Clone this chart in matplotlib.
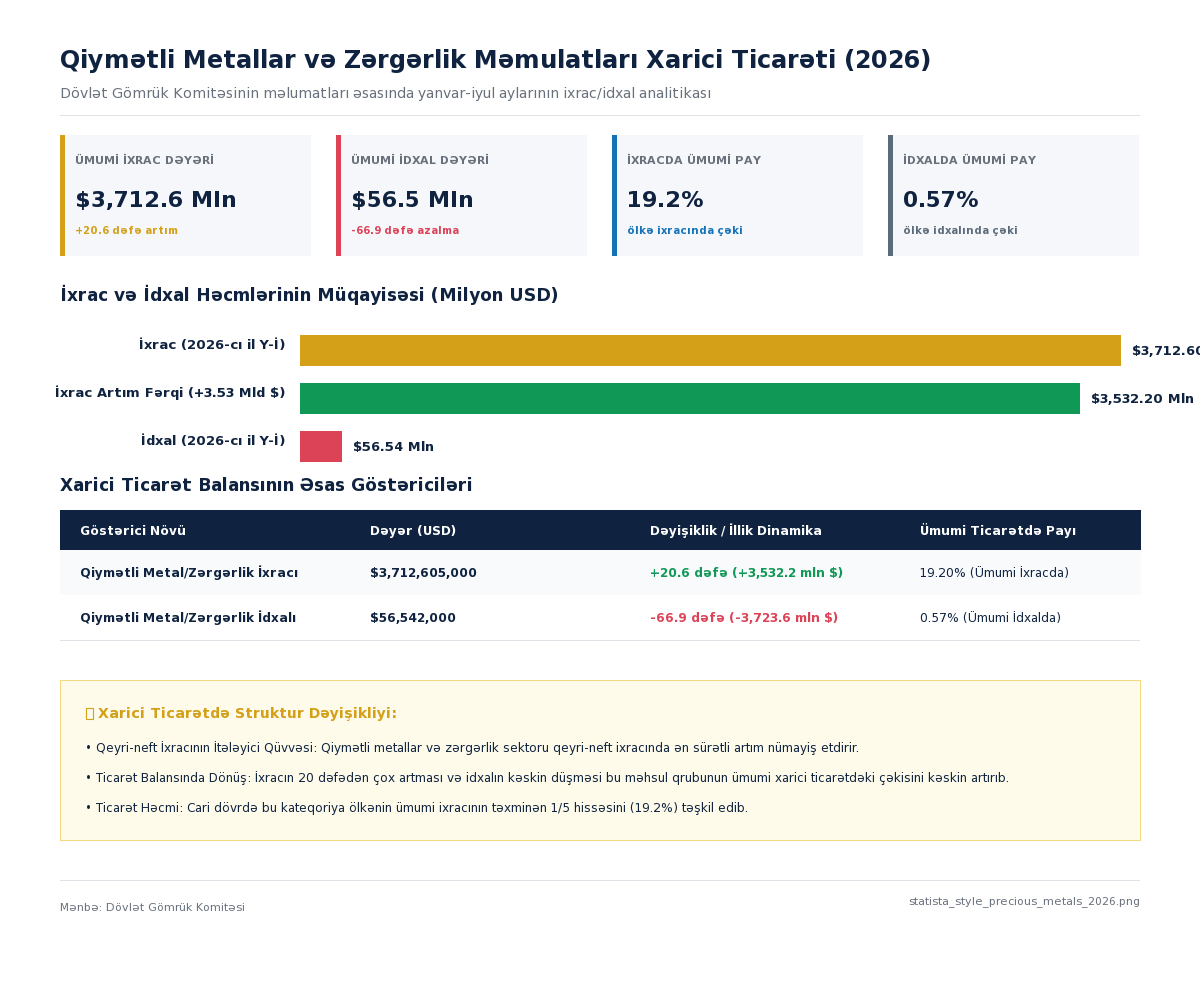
import matplotlib
matplotlib.use('Agg')
import matplotlib.pyplot as plt
from matplotlib.patches import Rectangle

# integer glyph advances, same look as the hinted text in the reference
plt.rcParams['text.hinting'] = 'force_autohint'
plt.rcParams['text.hinting_factor'] = 1

NAVY = '#0f2340'
GOLD = '#d4a017'
RED = '#dc4357'
GREEN = '#109856'
BLUE = '#1472b8'
SLATE = '#5c6b7a'
GRAY = '#68707b'
LINE = '#dfe2e6'

title = "Qiymətli Metallar və Zərgərlik Məmulatları Xarici Ticarəti (2026)"
subtitle = "Dövlət Gömrük Komitəsinin məlumatları əsasında yanvar-iyul aylarının ixrac/idxal analitikası"

card_labels = ["ÜMUMİ İXRAC DƏYƏRİ", "ÜMUMİ İDXAL DƏYƏRİ", "İXRACDA ÜMUMİ PAY", "İDXALDA ÜMUMİ PAY"]
card_values = ["$3,712.6 Mln", "$56.5 Mln", "19.2%", "0.57%"]
card_notes = ["+20.6 dəfə artım", "-66.9 dəfə azalma", "ölkə ixracında çəki", "ölkə idxalında çəki"]
card_colors = [GOLD, RED, BLUE, SLATE]

bar_names = ["İxrac (2026-cı il Y-İ)", "İxrac Artım Fərqi (+3.53 Mld $)", "İdxal (2026-cı il Y-İ)"]
# bar lengths; the idxal bar is drawn wider than its label says
bar_values = [3712.6, 3527, 190]
bar_texts = ["$3,712.60 Mln", "$3,532.20 Mln", "$56.54 Mln"]
bar_colors = [GOLD, GREEN, RED]

table_head = ["Göstərici Növü", "Dəyər (USD)", "Dəyişiklik / İllik Dinamika", "Ümumi Ticarətdə Payı"]
table_rows = [
    ["Qiymətli Metal/Zərgərlik İxracı", "$3,712,605,000", "+20.6 dəfə (+3,532.2 mln $)", "19.20% (Ümumi İxracda)"],
    ["Qiymətli Metal/Zərgərlik İdxalı", "$56,542,000", "-66.9 dəfə (-3,723.6 mln $)", "0.57% (Ümumi İdxalda)"],
]
change_colors = [GREEN, RED]

note_title = "Xarici Ticarətdə Struktur Dəyişikliyi:"
note_lines = [
    "• Qeyri-neft İxracının İtələyici Qüvvəsi: Qiymətli metallar və zərgərlik sektoru qeyri-neft ixracında ən sürətli artım nümayiş etdirir.",
    "• Ticarət Balansında Dönüş: İxracın 20 dəfədən çox artması və idxalın kəskin düşməsi bu məhsul qrubunun ümumi xarici ticarətdəki çəkisini kəskin artırıb.",
    "• Ticarət Həcmi: Cari dövrdə bu kateqoriya ölkənin ümumi ixracının təxminən 1/5 hissəsini (19.2%) təşkil edib.",
]
source = "Mənbə: Dövlət Gömrük Komitəsi"
file_name = "statista_style_precious_metals_2026.png"

fig = plt.figure(figsize=(12, 10), dpi=100, facecolor='white')

# page layer in pixel coordinates, y is the text baseline
page = fig.add_axes([0, 0, 1, 1])
page.set_xlim(0, 1200)
page.set_ylim(1000, 0)
page.axis('off')


def txt(x, y, s, px, color=NAVY, bold=False, ha='left'):
    page.text(x, y, s, fontsize=px * 0.72, color=color, ha=ha, va='baseline',
              fontweight='bold' if bold else 'normal')


def box(x, y, w, h, color):
    page.add_patch(Rectangle((x, y), w, h, facecolor=color, edgecolor='none'))


def rule(y):
    box(60, y, 1080, 1, LINE)


# header
txt(60, 68, title, 24, bold=True)
txt(60, 98, subtitle, 14, color=GRAY)
rule(115)

# cards
for i in range(4):
    x = 60 + 276 * i
    box(x, 135, 251, 121, '#f5f7fb')
    box(x, 135, 5, 121, card_colors[i])
    txt(x + 15, 164, card_labels[i], 11, color=GRAY, bold=True)
    txt(x + 15, 207, card_values[i], 22, bold=True)
    txt(x + 15, 234, card_notes[i], 10.4, color=card_colors[i], bold=True)

# bars
txt(60, 301, "İxrac və İdxal Həcmlərinin Müqayisəsi (Milyon USD)", 17, bold=True)

bar_ax = fig.add_axes([300 / 1200, 1 - 462 / 1000, 821 / 1200, 127 / 1000])
bar_ax.barh(range(3), bar_values, height=31 / 48, color=bar_colors)
bar_ax.set_xlim(0, 3712.6)
bar_ax.set_ylim(2 + 15.5 / 48, -15.5 / 48)
bar_ax.axis('off')
name_dy = [1.5, 1.5, 1.5]
value_dy = [-4.5, -4.5, -5]
for i in range(3):
    bar_ax.annotate(bar_names[i], xy=(0, i), xytext=(-15 * 0.72, name_dy[i] * 0.72), textcoords='offset points',
                    ha='right', va='baseline', fontsize=13 * 0.72, fontweight='bold', color=NAVY)
    bar_ax.annotate(bar_texts[i], xy=(bar_values[i], i), xytext=(11 * 0.72, value_dy[i] * 0.72), textcoords='offset points',
                    ha='left', va='baseline', fontsize=13 * 0.72, fontweight='bold', color=NAVY, annotation_clip=False)

# table
txt(60, 491, "Xarici Ticarət Balansının Əsas Göstəriciləri", 17, bold=True)
col_x = [80, 370, 650, 920]
box(60, 510, 1081, 40, NAVY)
for x, s in zip(col_x, table_head):
    txt(x, 535, s, 12, color='white', bold=True)
box(60, 550, 1081, 45, '#f8fafc')
for r, row in enumerate(table_rows):
    y = 577 + 45 * r
    txt(col_x[0], y, row[0], 12, bold=True)
    txt(col_x[1], y, row[1], 12, bold=True)
    txt(col_x[2], y, row[2], 12, color=change_colors[r], bold=True)
    txt(col_x[3], y, row[3], 12)
rule(640)

# note box, the emoji of the source is not in any installed font so its empty box is drawn as a shape
box(60, 680, 1081, 161, '#f5d97e')
box(61, 681, 1079, 159, '#fefbea')
page.add_patch(Rectangle((86, 708), 6.5, 11, facecolor='none', edgecolor=GOLD, linewidth=0.8))
txt(98, 718, note_title, 14, color=GOLD, bold=True)
for y, s in zip([752, 782, 812], note_lines):
    txt(85, y, s, 12)

# footer
rule(880)
txt(60, 911, source, 11, color=GRAY)
txt(1140, 904, file_name, 11, color=GRAY, ha='right')

fig.savefig('out.png', dpi=100)
